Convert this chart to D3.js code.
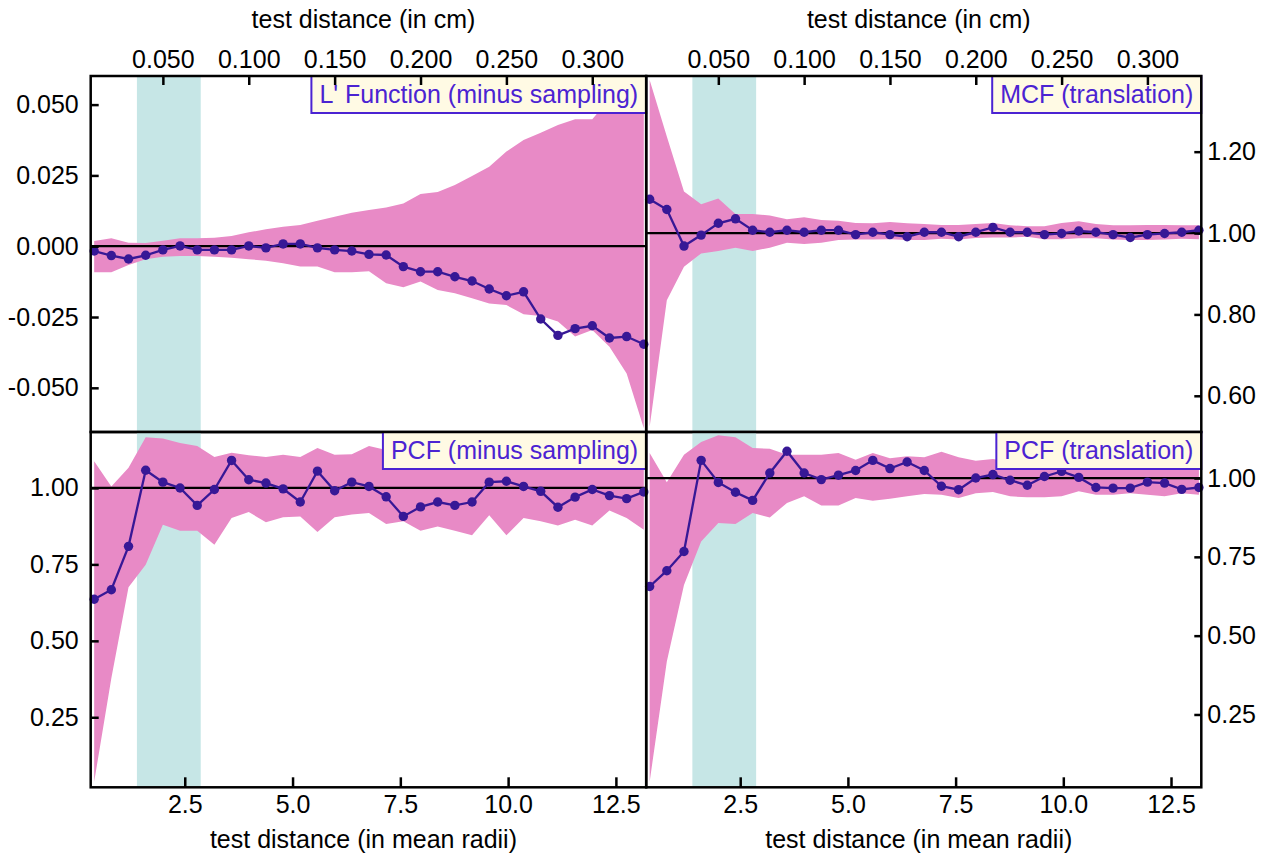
<!DOCTYPE html>
<html>
<head>
<meta charset="utf-8">
<script src="https://cdn.jsdelivr.net/npm/d3@7"></script>
<style>
  body { margin: 0; background: #fff; }
  svg { display: block; font-family: "Liberation Sans", Arial, sans-serif; }
</style>
</head>
<body>
<script>
// test distances (cm) and conversion to mean radii
const distanceCm = [0.01, 0.02, 0.03, 0.04, 0.05, 0.06, 0.07, 0.08, 0.09, 0.10, 0.11,
                    0.12, 0.13, 0.14, 0.15, 0.16, 0.17, 0.18, 0.19, 0.20, 0.21, 0.22,
                    0.23, 0.24, 0.25, 0.26, 0.27, 0.28, 0.29, 0.30, 0.31, 0.32, 0.33];
const meanRadius = 0.0251; // cm
const bandRadii = [1.39, 2.87];

// L' function (minus sampling)
const lValue = [-0.0017, -0.0033, -0.0045, -0.0032, -0.0013, 0.0001, -0.0013, -0.0013, -0.0013, 0.0001, -0.0006,
                0.0008, 0.0008, -0.0006, -0.0013, -0.0017, -0.0029, -0.0031, -0.0072, -0.0090, -0.0090, -0.0108,
                -0.0123, -0.0151, -0.0175, -0.0161, -0.0257, -0.0315, -0.0291, -0.0281, -0.0324, -0.0319, -0.0346];
const lUpper = [0.0018, 0.0028, 0.0012, 0.0011, 0.0019, 0.0028, 0.0028, 0.0030, 0.0036, 0.0049, 0.0060,
                0.0069, 0.0075, 0.0090, 0.0104, 0.0118, 0.0128, 0.0137, 0.0151, 0.0184, 0.0191, 0.0216,
                0.0248, 0.0281, 0.0334, 0.0375, 0.0401, 0.0428, 0.0448, 0.0448, 0.0520, 0.0550, 0.0580];
const lLower = [-0.0092, -0.0092, -0.0066, -0.0046, -0.0037, -0.0035, -0.0035, -0.0037, -0.0041, -0.0046, -0.0051,
                -0.0060, -0.0072, -0.0072, -0.0092, -0.0092, -0.0088, -0.0131, -0.0145, -0.0125, -0.0155, -0.0166,
                -0.0184, -0.0202, -0.0208, -0.0240, -0.0246, -0.0266, -0.0319, -0.0296, -0.0355, -0.0449, -0.0643];

// MCF (translation)
const mcfValue = [1.083, 1.058, 0.968, 0.995, 1.024, 1.035, 1.007, 1.002, 1.007, 1.002, 1.007,
                  1.007, 0.996, 1.002, 0.996, 0.991, 1.002, 1.002, 0.991, 1.002, 1.014, 1.002,
                  1.002, 0.996, 0.999, 1.005, 1.002, 0.996, 0.989, 0.996, 0.999, 1.002, 1.007];
const mcfUpper = [1.376, 1.237, 1.102, 1.071, 1.085, 1.047, 1.047, 1.043, 1.034, 1.039, 1.032,
                  1.030, 1.025, 1.024, 1.027, 1.024, 1.022, 1.020, 1.020, 1.022, 1.025, 1.019,
                  1.017, 1.017, 1.025, 1.029, 1.022, 1.019, 1.019, 1.020, 1.020, 1.019, 1.019];
const mcfLower = [0.524, 0.835, 0.917, 0.950, 0.956, 0.964, 0.956, 0.964, 0.976, 0.973, 0.976,
                  0.983, 0.984, 0.984, 0.985, 0.983, 0.983, 0.986, 0.984, 0.988, 0.989, 0.989,
                  0.991, 0.985, 0.985, 0.987, 0.987, 0.984, 0.983, 0.983, 0.984, 0.986, 0.985];

// PCF (minus sampling)
const pcfMinusValue = [0.636, 0.667, 0.809, 1.058, 1.019, 1.000, 0.943, 0.995, 1.090, 1.027, 1.016,
                       0.997, 0.954, 1.055, 0.991, 1.019, 1.005, 0.971, 0.907, 0.938, 0.954, 0.943,
                       0.954, 1.019, 1.022, 1.005, 0.989, 0.937, 0.970, 0.995, 0.975, 0.965, 0.987];
const pcfMinusUpper = [1.087, 1.005, 1.066, 1.166, 1.162, 1.147, 1.137, 1.101, 1.115, 1.107, 1.101,
                       1.109, 1.101, 1.131, 1.109, 1.110, 1.137, 1.124, 1.098, 1.112, 1.130, 1.104,
                       1.096, 1.118, 1.127, 1.102, 1.115, 1.093, 1.108, 1.121, 1.099, 1.113, 1.105];
const pcfMinusLower = [0.039, 0.378, 0.675, 0.749, 0.880, 0.860, 0.860, 0.814, 0.902, 0.921, 0.888,
                       0.904, 0.907, 0.856, 0.904, 0.913, 0.918, 0.882, 0.891, 0.860, 0.874, 0.860,
                       0.845, 0.911, 0.845, 0.902, 0.891, 0.877, 0.896, 0.877, 0.926, 0.902, 0.863];

// PCF (translation)
const pcfTransValue = [0.656, 0.706, 0.767, 1.056, 0.986, 0.955, 0.929, 1.016, 1.085, 1.016, 0.995,
                       1.009, 1.024, 1.056, 1.030, 1.051, 1.024, 0.974, 0.963, 1.000, 1.011, 0.993,
                       0.977, 1.005, 1.021, 1.002, 0.970, 0.968, 0.968, 0.987, 0.984, 0.964, 0.970];
const pcfTransUpper = [1.079, 0.987, 1.074, 1.114, 1.136, 1.129, 1.095, 1.093, 1.074, 1.074, 1.074,
                       1.079, 1.058, 1.079, 1.063, 1.069, 1.066, 1.083, 1.066, 1.055, 1.060, 1.052,
                       1.061, 1.048, 1.057, 1.066, 1.050, 1.045, 1.058, 1.049, 1.055, 1.047, 1.052];
const pcfTransLower = [0.037, 0.418, 0.661, 0.799, 0.857, 0.854, 0.889, 0.875, 0.921, 0.942, 0.913,
                       0.913, 0.937, 0.928, 0.934, 0.942, 0.949, 0.947, 0.937, 0.952, 0.956, 0.942,
                       0.939, 0.939, 0.942, 0.958, 0.947, 0.947, 0.952, 0.947, 0.942, 0.952, 0.947];

// ticks
const xTicksRadii = [2.5, 5.0, 7.5, 10.0, 12.5];
const xTicksCm = [0.05, 0.10, 0.15, 0.20, 0.25, 0.30];
const lTicks = [-0.05, -0.025, 0, 0.025, 0.05];
const mcfTicks = [0.6, 0.8, 1.0, 1.2];
const pcfTicks = [0.25, 0.5, 0.75, 1.0];

const width = 1270, height = 857;
const cols = [[90.7, 646.2], [646.2, 1201.3]];
const rows = [[76, 432], [432, 787.3]];
const xDomainRadii = [0.318, 13.203];

const pink = "#e88ac6", teal = "#c6e6e6", ink = "#371896", labelInk = "#4b23d2", boxFill = "#fffae4";
const fontSize = 25;

const panels = [
  {label: "L' Function (minus sampling)", value: lValue, upper: lUpper, lower: lLower,
   yDomain: [-0.0656, 0.0601], ref: 0, yTicks: lTicks, yFormat: ".3f", col: 0, row: 0},
  {label: "MCF (translation)", value: mcfValue, upper: mcfUpper, lower: mcfLower,
   yDomain: [0.511, 1.386], ref: 1, yTicks: mcfTicks, yFormat: ".2f", col: 1, row: 0},
  {label: "PCF (minus sampling)", value: pcfMinusValue, upper: pcfMinusUpper, lower: pcfMinusLower,
   yDomain: [0.021, 1.183], ref: 1, yTicks: pcfTicks, yFormat: ".2f", col: 0, row: 1},
  {label: "PCF (translation)", value: pcfTransValue, upper: pcfTransUpper, lower: pcfTransLower,
   yDomain: [0.019, 1.146], ref: 1, yTicks: pcfTicks, yFormat: ".2f", col: 1, row: 1}
];

const fmt = f => d => d3.format(f)(d).replace("\u2212", "-");

const svg = d3.select("body").append("svg")
    .attr("width", width)
    .attr("height", height);

panels.forEach((p, pi) => {
    const [x0, x1] = cols[p.col];
    const [y0, y1] = rows[p.row];

    const x = d3.scaleLinear().domain(xDomainRadii).range([x0, x1]);
    const xCm = d3.scaleLinear().domain(xDomainRadii.map(d => d * meanRadius)).range([x0, x1]);
    const y = d3.scaleLinear().domain(p.yDomain).range([y1, y0]);

    const data = distanceCm.map((d, i) => ({
        r: d / meanRadius, v: p.value[i], hi: p.upper[i], lo: p.lower[i]
    }));

    const g = svg.append("g");

    g.append("clipPath").attr("id", "clip" + pi)
      .append("rect")
        .attr("x", x0).attr("y", y0)
        .attr("width", x1 - x0).attr("height", y1 - y0);

    // highlighted band
    g.append("rect")
        .attr("x", x(bandRadii[0]))
        .attr("y", y0)
        .attr("width", x(bandRadii[1]) - x(bandRadii[0]))
        .attr("height", y1 - y0)
        .attr("fill", teal);

    // envelope
    g.append("path")
        .datum(data)
        .attr("clip-path", `url(#clip${pi})`)
        .attr("fill", pink)
        .attr("d", d3.area().x(d => x(d.r)).y0(d => y(d.lo)).y1(d => y(d.hi)));

    // reference line
    g.append("line")
        .attr("x1", x0).attr("x2", x1)
        .attr("y1", y(p.ref)).attr("y2", y(p.ref))
        .attr("stroke", "#000")
        .attr("stroke-width", 2.2);

    // data line + points
    g.append("path")
        .datum(data)
        .attr("fill", "none")
        .attr("stroke", ink)
        .attr("stroke-width", 2.3)
        .attr("d", d3.line().x(d => x(d.r)).y(d => y(d.v)));

    g.append("g")
      .selectAll("circle")
      .data(data)
      .join("circle")
        .attr("cx", d => x(d.r))
        .attr("cy", d => y(d.v))
        .attr("r", 4.7)
        .attr("fill", ink);

    // label box
    const box = g.append("g");
    const rect = box.append("rect");
    const txt = box.append("text")
        .attr("x", x1 - 8)
        .attr("y", y0 + 27)
        .attr("text-anchor", "end")
        .attr("fill", labelInk)
        .style("font-size", fontSize + "px")
        .text(p.label);
    const tw = txt.node().getComputedTextLength();
    rect.attr("x", x1 - tw - 16)
        .attr("y", y0)
        .attr("width", tw + 16)
        .attr("height", 37)
        .attr("fill", boxFill)
        .attr("stroke", labelInk)
        .attr("stroke-width", 2);

    // frame
    g.append("rect")
        .attr("x", x0).attr("y", y0)
        .attr("width", x1 - x0).attr("height", y1 - y0)
        .attr("fill", "none")
        .attr("stroke", "#000")
        .attr("stroke-width", 2.5);

    // axes
    let xAxis, yAxis;
    if (p.row === 0) {
        xAxis = g.append("g")
            .attr("transform", `translate(0,${y0})`)
            .call(d3.axisTop(xCm).tickValues(xTicksCm).tickFormat(fmt(".3f")).tickSize(-9).tickPadding(8));
        svg.append("text")
            .attr("x", (x0 + x1) / 2 - 5)
            .attr("y", 28)
            .attr("text-anchor", "middle")
            .style("font-size", fontSize + "px")
            .text("test distance (in cm)");
    } else {
        xAxis = g.append("g")
            .attr("transform", `translate(0,${y1})`)
            .call(d3.axisBottom(x).tickValues(xTicksRadii).tickFormat(fmt(".1f")).tickSize(-10).tickPadding(8));
        svg.append("text")
            .attr("x", (x0 + x1) / 2 - 5)
            .attr("y", 848)
            .attr("text-anchor", "middle")
            .style("font-size", fontSize + "px")
            .text("test distance (in mean radii)");
    }
    if (p.col === 0) {
        yAxis = g.append("g")
            .attr("transform", `translate(${x0},0)`)
            .call(d3.axisLeft(y).tickValues(p.yTicks).tickFormat(fmt(p.yFormat)).tickSize(-8).tickPadding(12));
    } else {
        yAxis = g.append("g")
            .attr("transform", `translate(${x1},0)`)
            .call(d3.axisRight(y).tickValues(p.yTicks).tickFormat(fmt(p.yFormat)).tickSize(-7).tickPadding(6));
    }
    [xAxis, yAxis].forEach(a => {
        a.select(".domain").remove();
        a.attr("font-family", null).attr("font-size", null);
        a.selectAll(".tick line").attr("stroke", "#000").attr("stroke-width", 2.5);
        a.selectAll(".tick text").attr("fill", "#000").style("font-size", fontSize + "px");
    });
});
</script>
</body>
</html>
